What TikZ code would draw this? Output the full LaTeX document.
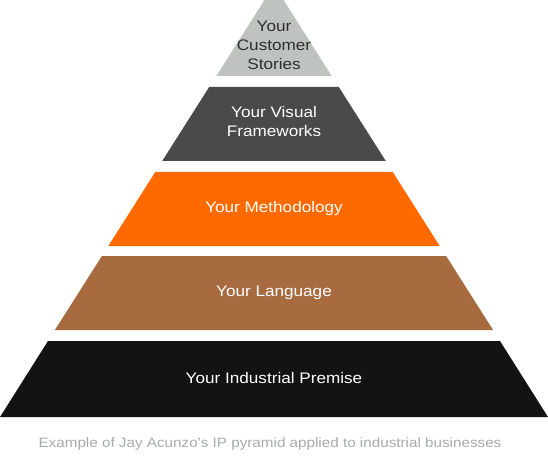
\documentclass[tikz,border=0pt]{standalone}
\usepackage{fontspec}
\setmainfont{Liberation Sans}[FakeStretch=1.12]
\definecolor{topgray}{HTML}{BEC3BF}
\definecolor{darkgray}{HTML}{4A4A4A}
\definecolor{ipo}{HTML}{FF6A00}
\definecolor{ipbrown}{HTML}{A86B40}
\definecolor{ipblack}{HTML}{131313}
\definecolor{capgray}{HTML}{A6AAA8}
\definecolor{toptext}{HTML}{2E2E2E}
\begin{document}
\begin{tikzpicture}[x=1pt, y=-1pt,
    label/.style={text=white, align=center, font=\fontsize{15.3}{19}\selectfont},
    toplabel/.style={label, text=toptext}]
    \useasboundingbox (0,0) rectangle (548,470);

    \fill[topgray] (264.5,0) -- (283.5,0) -- (331.7,76) -- (216.3,76) -- cycle;
    \fill[darkgray] (209.2,87) -- (338.8,87) -- (385.8,161) -- (162.2,161) -- cycle;
    \fill[ipo] (155.3,172) -- (392.7,172) -- (439.7,246) -- (108.3,246) -- cycle;
    \fill[ipbrown] (101.9,256) -- (446.1,256) -- (493.1,330) -- (54.9,330) -- cycle;
    \fill[ipblack] (48,341) -- (500,341) -- (548,417) -- (0,417) -- cycle;

    %%%%%%%%%%%%%%%%%%%%%%%%%%%%%%%%%%%%%%%%

    \node[toplabel] (stories) at (274, 45) {Your\\Customer\\Stories};
    \node[label] (frameworks) at (274, 122) {Your Visual\\Frameworks};
    \node[label] (method) at (274, 209) {Your Methodology};
    \node[label] (lang) at (274, 293) {Your Language};
    \node[label] (premise) at (274, 378) {Your Industrial Premise};

    \node[text=capgray, font=\fontsize{13.6}{16}\selectfont] (caption) at (270, 444)
        {Example of Jay Acunzo's IP pyramid applied to industrial businesses};

\end{tikzpicture}
\end{document}
